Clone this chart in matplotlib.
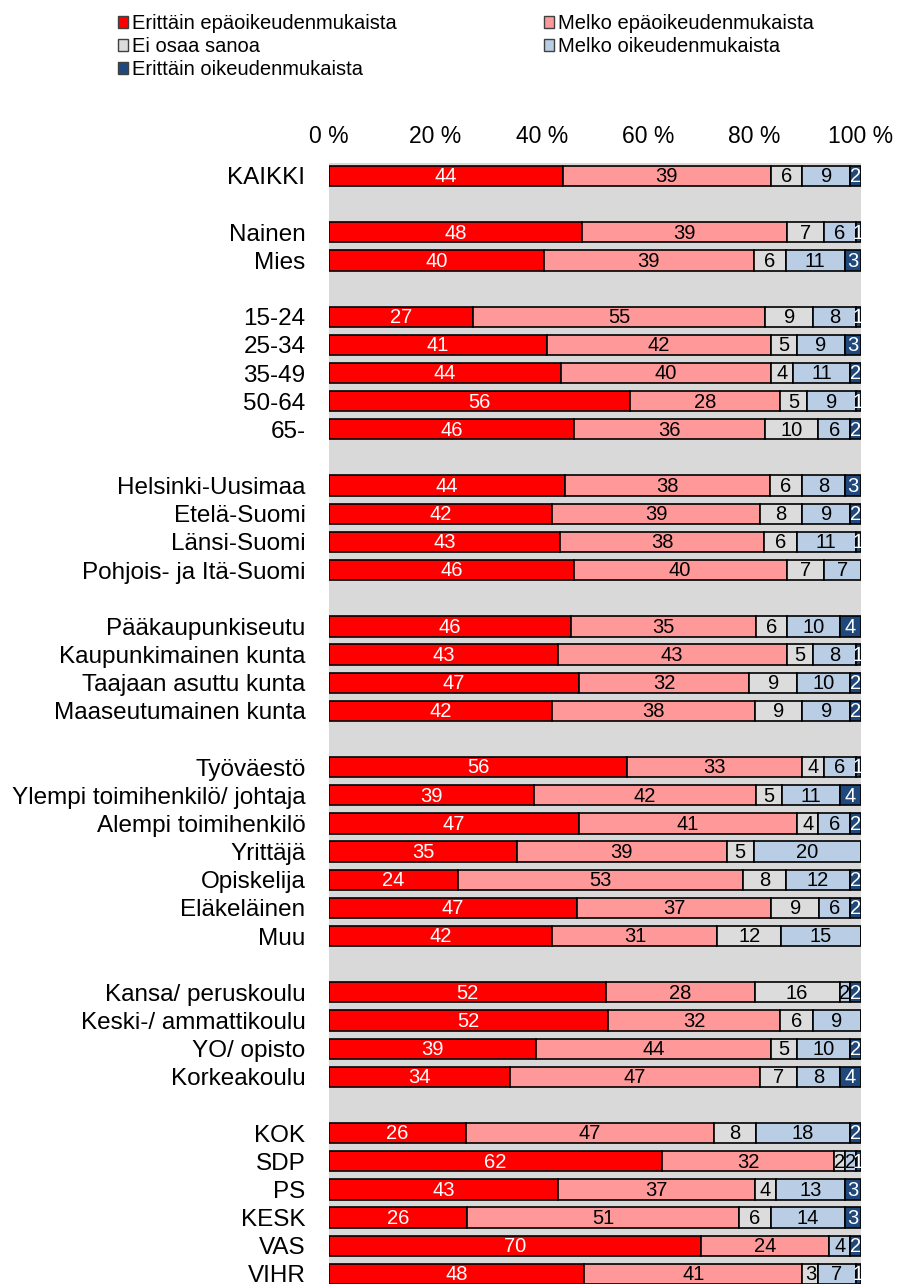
import matplotlib
matplotlib.use("Agg")
import matplotlib.pyplot as plt
import numpy as np

plt.rcParams['font.family'] = ['Liberation Sans', 'DejaVu Sans']

# Data (None = empty spacer row between groups)
categories = [
    "KAIKKI", None,
    "Nainen", "Mies", None,
    "15-24", "25-34", "35-49", "50-64", "65-", None,
    "Helsinki-Uusimaa", "Etelä-Suomi", "Länsi-Suomi", "Pohjois- ja Itä-Suomi", None,
    "Pääkaupunkiseutu", "Kaupunkimainen kunta", "Taajaan asuttu kunta", "Maaseutumainen kunta", None,
    "Työväestö", "Ylempi toimihenkilö/ johtaja", "Alempi toimihenkilö", "Yrittäjä",
    "Opiskelija", "Eläkeläinen", "Muu", None,
    "Kansa/ peruskoulu", "Keski-/ ammattikoulu", "YO/ opisto", "Korkeakoulu", None,
    "KOK", "SDP", "PS", "KESK", "VAS", "VIHR",
]

erittain_epa = [44, None, 48, 40, None, 27, 41, 44, 56, 46, None, 44, 42, 43, 46, None,
                46, 43, 47, 42, None, 56, 39, 47, 35, 24, 47, 42, None, 52, 52, 39, 34, None,
                26, 62, 43, 26, 70, 48]
melko_epa = [39, None, 39, 39, None, 55, 42, 40, 28, 36, None, 38, 39, 38, 40, None,
             35, 43, 32, 38, None, 33, 42, 41, 39, 53, 37, 31, None, 28, 32, 44, 47, None,
             47, 32, 37, 51, 24, 41]
ei_osaa = [6, None, 7, 6, None, 9, 5, 4, 5, 10, None, 6, 8, 6, 7, None,
           6, 5, 9, 9, None, 4, 5, 4, 5, 8, 9, 12, None, 16, 6, 5, 7, None,
           8, 2, 4, 6, 0, 3]
melko_oik = [9, None, 6, 11, None, 8, 9, 11, 9, 6, None, 8, 9, 11, 7, None,
             10, 8, 10, 9, None, 6, 11, 6, 20, 12, 6, 15, None, 2, 9, 10, 8, None,
             18, 2, 13, 14, 4, 7]
erittain_oik = [2, None, 1, 3, None, 1, 3, 2, 1, 2, None, 3, 2, 1, 0, None,
                4, 1, 2, 2, None, 1, 4, 2, 0, 2, 2, 0, None, 2, 0, 2, 4, None,
                2, 1, 3, 3, 2, 1]

series_names = ["Erittäin epäoikeudenmukaista", "Melko epäoikeudenmukaista",
                "Ei osaa sanoa", "Melko oikeudenmukaista", "Erittäin oikeudenmukaista"]
colors = ["#ff0000", "#ff9999", "#dcdcdc", "#b9cde5", "#1f497d"]
text_colors = ["white", "black", "black", "black", "white"]

series = [erittain_epa, melko_epa, ei_osaa, melko_oik, erittain_oik]

fig = plt.figure(figsize=(9, 12.84), dpi=100)
ax = fig.add_axes([329 / 900, 0.0, 532 / 900, 1 - 163 / 1284])
ax.set_facecolor("#d9d9d9")

n = len(categories)
y = np.arange(n)
rows = [i for i in range(n) if categories[i] is not None]
vals = np.array([[s[i] for s in series] for i in rows], dtype=float)
share = vals / vals.sum(axis=1, keepdims=True) * 100

handles = []
left = np.zeros(len(rows))
for k in range(5):
    bars = ax.barh([y[i] for i in rows], share[:, k], left=left, height=0.72,
                   color=colors[k], edgecolor="black", linewidth=1.2,
                   label=series_names[k])
    handles.append(bars)
    for j, i in enumerate(rows):
        v = vals[j, k]
        if v > 0:
            ax.text(left[j] + share[j, k] / 2, y[i] + 0.03, "%d" % v, ha="center", va="center",
                    fontsize=14.5, color=text_colors[k])
    left += share[:, k]

ax.set_xlim(0, 100)
ax.set_ylim(n - 1 + 0.36, -0.46)
ax.set_yticks(rows)
ax.set_yticklabels([categories[i] for i in rows], fontsize=17.5)
for lbl in ax.get_yticklabels():
    lbl.set_verticalalignment("center_baseline")
ax.set_xticks([0, 20, 40, 60, 80, 100])
ax.set_xticklabels(["0 %", "20 %", "40 %", "60 %", "80 %", "100 %"], fontsize=16.5)
ax.xaxis.tick_top()
ax.tick_params(axis="x", length=0, pad=11)
ax.tick_params(axis="y", length=0, pad=17)
for sp in ax.spines.values():
    sp.set_visible(False)

order = [0, 2, 4, 1, 3]
leg = fig.legend([handles[i] for i in order], [series_names[i] for i in order],
                 loc="upper left", bbox_to_anchor=(100 / 900, 1 + 4 / 1284), ncol=2,
                 frameon=False, fontsize=14.5, handlelength=0.5, handleheight=0.5,
                 handletextpad=0.2, columnspacing=7.3, labelspacing=0.2)
for h in leg.legend_handles:
    h.set_edgecolor("#404040")
    h.set_linewidth(1.0)

fig.savefig("out.png", dpi=100)
plt.close()
